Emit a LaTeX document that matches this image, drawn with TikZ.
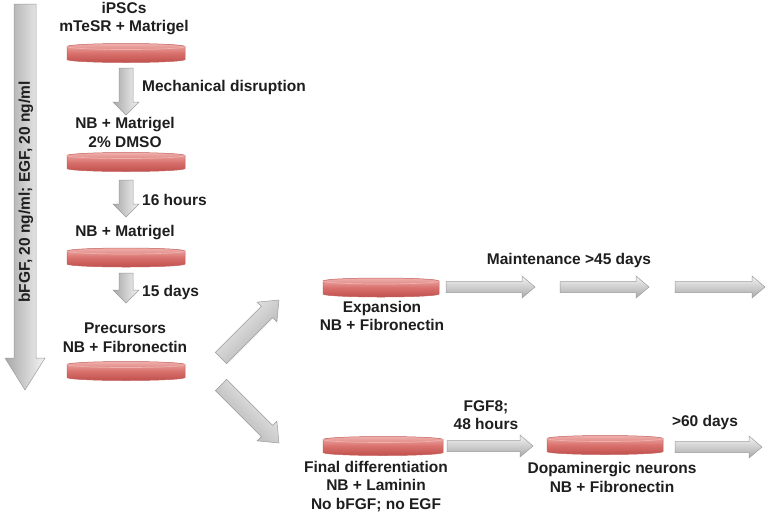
\documentclass[tikz,border=0pt]{standalone}
\usepackage{fontspec}
\setmainfont{Liberation Sans}
\usetikzlibrary{calc}
\definecolor{txt}{HTML}{1E1E1E}
\definecolor{dishtop}{HTML}{EFB1AE}
\definecolor{dishmid}{HTML}{D9716D}
\definecolor{dishbot}{HTML}{C0504D}
\definecolor{dishedge}{HTML}{C45F5B}
\definecolor{arrlight}{HTML}{F4F4F4}
\definecolor{arrmid}{HTML}{DCDCDC}
\definecolor{arrdark}{HTML}{A8A8A8}
\definecolor{arredge}{HTML}{9C9C9C}
\tikzset{
  lbl/.style={font=\bfseries\fontsize{15.5}{18.5}\selectfont, text=txt, inner sep=0pt, align=center},
  dishnode/.style={minimum height=19pt, inner sep=0pt, outer sep=0pt},
  dishshade/.style={top color=dishtop, bottom color=dishbot, middle color=dishmid, draw=dishedge, line width=0.5pt},
  rimline/.style={draw=dishtop, line width=0.7pt},
  blockshade/.style={top color=arrlight, middle color=arrmid, bottom color=arrdark, draw=arredge, line width=0.5pt},
}
\newcommand\petri[4]{%
  \node[dishnode, minimum width=#4pt] (#1) at (#2,-#3) {};
  \shade[dishshade] ($(#1.north west)+(0,-3)$) -- ($(#1.south west)+(0,3)$)
    arc[start angle=180, end angle=360, x radius=#4/2, y radius=3]
    -- ($(#1.north east)+(0,-3)$)
    arc[start angle=0, end angle=180, x radius=#4/2, y radius=3] -- cycle;
  \draw[rimline] ($(#1.north west)+(0,-3)$)
    arc[start angle=180, end angle=360, x radius=#4/2, y radius=3];
}
\newcommand\blockarr[5]{%
  \path let \p1=(#1), \p2=(#2), \n1={atan2(\y2-\y1,\x2-\x1)}, \n2={veclen(\x2-\x1,\y2-\y1)} in
    \pgfextra{\xdef\baang{\n1}\xdef\balen{\n2}};
  \shade[blockshade, shading angle=\baang, shift={(#1)}, rotate=\baang]
    (0,-#3) -- (\balen-#5,-#3) -- (\balen-#5,-#4) -- (\balen,0) -- (\balen-#5,#4)
    -- (\balen-#5,#3) -- (0,#3) -- cycle;
}
\begin{document}
\begin{tikzpicture}[x=1pt,y=1pt]
\useasboundingbox (0,0) rectangle (768,-515);
\fill[white] (0,0) rectangle (768,-515);

% big side arrow
\coordinate (bigs) at (25,-4);
\coordinate (bige) at (25,-390);
\blockarr{bigs}{bige}{11}{20}{32}
\node[lbl, rotate=90] (side) at (26,-192) {bFGF, 20 ng/ml; EGF, 20 ng/ml};

% dishes
\petri{d1}{126}{53}{118}
\petri{d2}{126}{162}{118}
\petri{d3}{126}{257.5}{118}
\petri{d4}{126}{371}{118}
\petri{d5}{381}{287.5}{116}
\petri{d6}{383}{446}{120}
\petri{d7}{605}{445}{116}

% texts
\node[lbl] (t1) at (124,-18.5) {iPSCs\\mTeSR + Matrigel};
\node[lbl] (t2) at (125,-132.5) {NB + Matrigel\\2\% DMSO};
\node[lbl] (t3) at (125,-233) {NB + Matrigel};
\node[lbl] (t4) at (125,-337.5) {Precursors\\NB + Fibronectin};
\node[lbl] (t5) at (382,-316) {Expansion\\NB + Fibronectin};
\node[lbl] (t6) at (376,-486.5) {Final differentiation\\NB + Laminin\\No bFGF; no EGF};
\node[lbl] (t7) at (612,-477.5) {Dopaminergic neurons\\NB + Fibronectin};
\node[lbl, anchor=west] (l1) at (142,-87) {Mechanical disruption};
\node[lbl, anchor=west] (l2) at (142,-200) {16 hours};
\node[lbl, anchor=west] (l3) at (142,-292) {15 days};
\node[lbl] (l4) at (569,-260) {Maintenance >45 days};
\node[lbl] (l5) at (486,-415) {FGF8;\\48 hours};
\node[lbl] (l6) at (705,-422) {>60 days};

% vertical step arrows
\coordinate (a1s) at (126,-68);  \coordinate (a1e) at (126,-115);
\coordinate (a2s) at (126,-180); \coordinate (a2e) at (126,-217);
\coordinate (a3s) at (126,-273); \coordinate (a3e) at (126,-303);
\blockarr{a1s}{a1e}{7}{13}{13}
\blockarr{a2s}{a2e}{7}{13}{13}
\blockarr{a3s}{a3e}{7}{13}{13}

% diagonal arrows
\coordinate (u1s) at (221,-358); \coordinate (u1e) at (279,-300);
\coordinate (w1s) at (221,-385); \coordinate (w1e) at (279,-443);
\blockarr{u1s}{u1e}{8}{14}{17}
\blockarr{w1s}{w1e}{8}{14}{17}

% horizontal arrows
\coordinate (h1s) at (446,-287); \coordinate (h1e) at (535,-287);
\coordinate (h2s) at (560,-287); \coordinate (h2e) at (649,-287);
\coordinate (h3s) at (675,-287); \coordinate (h3e) at (765,-287);
\coordinate (h4s) at (447,-446); \coordinate (h4e) at (533,-446);
\coordinate (h5s) at (675,-447); \coordinate (h5e) at (762,-447);
\blockarr{h1s}{h1e}{5.5}{11}{13}
\blockarr{h2s}{h2e}{5.5}{11}{13}
\blockarr{h3s}{h3e}{5.5}{11}{13}
\blockarr{h4s}{h4e}{5.5}{11}{13}
\blockarr{h5s}{h5e}{5.5}{11}{13}
\end{tikzpicture}
\end{document}
